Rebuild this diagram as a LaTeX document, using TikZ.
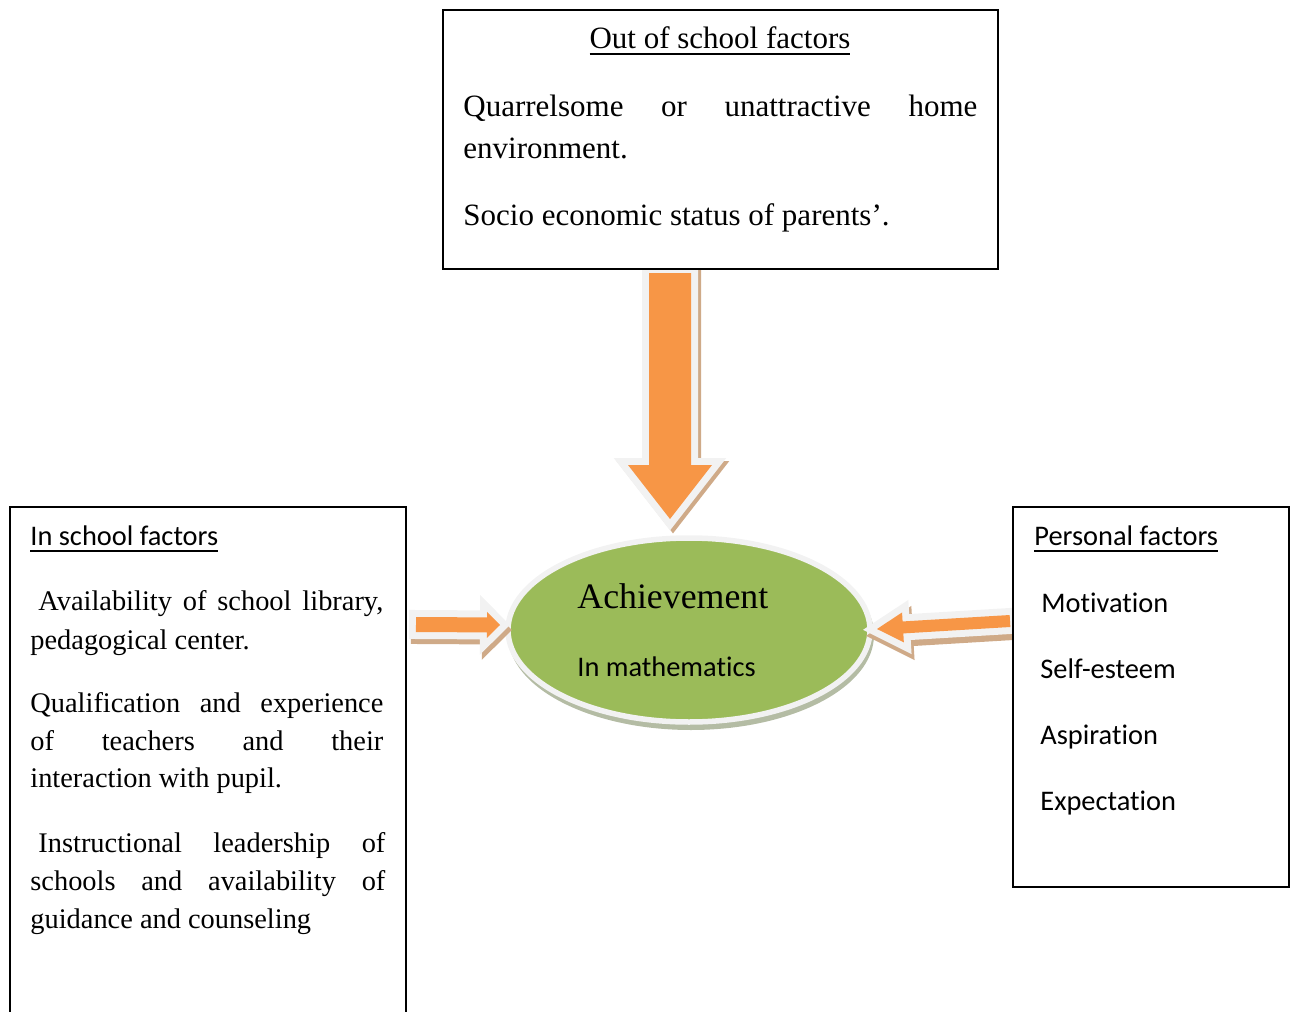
\documentclass[tikz,border=0pt]{standalone}
\usepackage{fontspec}
\setmainfont{Liberation Serif}
\newfontfamily\calibri[Ligatures={NoCommon,NoContextual}]{Carlito}
\usetikzlibrary{calc,shapes.geometric,positioning}

\definecolor{arroworange}{HTML}{F79646}
\definecolor{ellgreen}{HTML}{9BBB59}
\definecolor{rimgray}{HTML}{F2F2F2}
\definecolor{shadowbrown}{HTML}{CFAA88}
\definecolor{shadowgreen}{HTML}{B4BCA4}

\newcommand{\undl}[1]{\setbox0\hbox{#1}\rlap{\rule[-3.4pt]{\wd0}{0.9pt}}\box0}
\newcommand{\jline}[2]{\makebox[#1][s]{#2}}

% outline of a block arrow: tail, tip, shaft half width, head half width
\newcommand{\arrowshape}[4]{($(#1)!#3!90:(#2)$) -- ($(hb)!#3!90:(#2)$) -- ($(hb)!#4!90:(#2)$) -- (#2) -- ($(hb)!#4!-90:(#2)$) -- ($(hb)!#3!-90:(#2)$) -- ($(#1)!#3!-90:(#2)$) -- cycle}
% tail, tip, shaft half width, head half width, head length, shadow shift
\newcommand{\blockarrow}[6]{%
  \coordinate (hb) at ($(#2)!#5!(#1)$);
  \filldraw[shadowbrown, line width=7pt, line join=miter, transform canvas={shift={#6}}] \arrowshape{#1}{#2}{#3}{#4};
  \filldraw[rimgray, line width=7pt, line join=miter] \arrowshape{#1}{#2}{#3}{#4};
  \fill[arroworange] \arrowshape{#1}{#2}{#3}{#4};
}

\begin{document}
\begin{tikzpicture}[x=0.5pt, y=-0.5pt,
    tnrbig/.style={font=\fontsize{15.5}{18}\selectfont, anchor=base west, inner sep=0pt},
    tnr/.style={font=\fontsize{14.2}{17}\selectfont, anchor=base west, inner sep=0pt},
    cal/.style={font=\calibri\fontsize{14.2}{17}\selectfont, anchor=base west, inner sep=0pt},
    factorbox/.style={draw, line width=1pt, fill=white}]

    \useasboundingbox (0,0) rectangle (1292,1012);

    %Achievement ellipse
    \node[ellipse, fill=shadowgreen, minimum width=183pt, minimum height=95pt, inner sep=0pt] (achshadow) at (691,635) {};
    \node[ellipse, draw=rimgray, line width=2.75pt, fill=ellgreen, minimum width=181pt, minimum height=92pt, inner sep=0pt] (ach) at (689,630) {};

    %Arrow ends
    \coordinate (outtail) at (670,273);
    \coordinate (outtip) at (670,519);
    \coordinate (intail) at (416,624.5);
    \coordinate (intip) at (500,625);
    \coordinate (pftail) at (1010,621);
    \coordinate (pftip) at (877,629);

    %Block arrows
    \blockarrow{outtail}{outtip}{10.5pt}{21pt}{27pt}{(3,3)}
    \blockarrow{intail}{intip}{3.75pt}{6.5pt}{6.5pt}{(2,5)}
    \blockarrow{pftail}{pftip}{3pt}{7.5pt}{13pt}{(3,6)}

    %Boxes
    \draw[factorbox] (443,10) rectangle (998,269);
    \draw[factorbox] (1013,507) rectangle (1289,887);
    \draw[line width=1pt] (10,1012) -- (10,507) -- (406,507) -- (406,1012);

    %Out of school factors
    \node[tnrbig, anchor=base] (outtitle) at (720,48) {\undl{Out of school factors}};
    \node[tnrbig] (out1) at (463,116) {\jline{257pt}{Quarrelsome or unattractive home}};
    \node[tnrbig] (out2) at (463,158) {environment.};
    \node[tnrbig] (out3) at (463,225) {Socio economic status of parents’.};

    %In school factors
    \node[cal] (intitle) at (30,545) {\undl{In school factors}};
    \node[tnr] (in1) at (38,610) {\jline{172.5pt}{Availability of school library,}};
    \node[tnr] (in2) at (30,649) {pedagogical center.};
    \node[tnr] (in3) at (30,712) {\jline{176.5pt}{Qualification and experience}};
    \node[tnr] (in4) at (30,750) {\jline{176.5pt}{of teachers and their}};
    \node[tnr] (in5) at (30,787) {interaction with pupil.};
    \node[tnr] (in6) at (38,852) {\jline{173.5pt}{Instructional leadership of}};
    \node[tnr] (in7) at (30,890) {\jline{177.5pt}{schools and availability of}};
    \node[tnr] (in8) at (30,928) {guidance and counseling};

    %Personal factors
    \node[cal] (pftitle) at (1034,545) {\undl{Personal factors}};
    \node[cal] (pf1) at (1041,612) {Motivation};
    \node[cal] (pf2) at (1040,678) {Self-esteem};
    \node[cal] (pf3) at (1040,744) {Aspiration};
    \node[cal] (pf4) at (1040,810) {Expectation};

    %Ellipse text
    \node[tnr, font=\fontsize{17.9}{21}\selectfont] (achtext) at (577,608) {Achievement};
    \node[cal] (achsub) at (577,676) {In mathematics};

\end{tikzpicture}
\end{document}
